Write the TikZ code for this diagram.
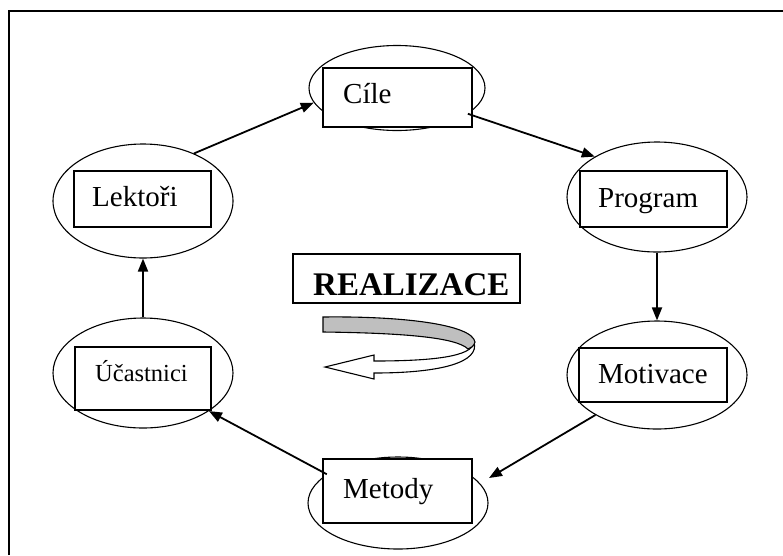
\documentclass[tikz,border=0pt]{standalone}
\usepackage{fontspec}
\setmainfont{Liberation Serif}
\usetikzlibrary{shapes.geometric,arrows.meta,calc}
\begin{document}
\begin{tikzpicture}[x=1pt,y=-1pt,
  ell/.style={draw, ellipse, line width=1.1pt, inner sep=0pt},
  box/.style={draw, fill=white, line width=1.3pt},
  lbl/.style={anchor=base west, inner sep=0pt, font=\fontsize{29}{33}\selectfont},
  conn/.style={line width=1.8pt, -{Triangle[length=13pt,width=10pt]}}]
\useasboundingbox (0,0) rectangle (783,555);
% frame (cropped)
\draw[line width=2pt] (9,555) -- (9,11) -- (783,11);
% ellipses
\node[ell, minimum width=176pt, minimum height=85pt] (cil) at (397,88) {};
\node[ell, minimum width=180pt, minimum height=110pt] (prog) at (657,197) {};
\node[ell, minimum width=180pt, minimum height=114pt] (lek) at (143,201) {};
\node[ell, minimum width=180pt, minimum height=110pt] (ucast) at (143,373) {};
\node[ell, minimum width=180pt, minimum height=108pt] (mot) at (657,375) {};
\node[ell, minimum width=180pt, minimum height=92pt] (met) at (398,503) {};
% boxes
\draw[box] (323,68) rectangle (472,127);
\draw[box] (580,171) rectangle (727,227);
\draw[box] (74,171) rectangle (211,227);
\draw[box] (75,347) rectangle (211,410);
\draw[box] (579,348) rectangle (727,402);
\draw[box] (323,459) rectangle (472,523);
% texts
\node[lbl] (tcil) at (343,103) {Cíle};
\node[lbl] (tprog) at (598,207) {Program};
\node[lbl] (tlek) at (92,206) {Lektoři};
\node[lbl, font=\fontsize{24.5}{28}\selectfont] (tucast) at (95,381) {Účastnici};
\node[lbl] (tmot) at (598,383) {Motivace};
\node[lbl] (tmet) at (343,498) {Metody};
% REALIZACE
\node[draw, line width=1.2pt, minimum width=227pt, minimum height=49pt, inner sep=0pt] (realbox) at (406.5,278.5) {};
\node[anchor=base west, inner sep=0pt, font=\fontsize{33}{38}\selectfont\bfseries] (real) at (313,295) {REALIZACE};
% connectors
\draw[conn] (lek.43) -- (cil.190);
\draw[conn] (cil.-20) -- (prog.147);
\draw[conn] (prog.south) -- (mot.north);
\draw[conn] (mot.213) -- ($(met.center)+(91,-25)$);
\draw[conn] (met.158) -- (ucast.-30);
\draw[conn] (ucast.north) -- (lek.south);
% curved arrow
\draw[fill=white, line width=1.1pt, line join=miter]
  (474,342) .. controls (473,357) and (430,361) .. (374,361)
  -- (374,355) -- (325,367) -- (374,379) -- (374,373)
  .. controls (442,373) and (480,362) .. (474,342) -- cycle;
\draw[fill=black!25, line width=1.1pt]
  (323,317) .. controls (400,316) and (472,324) .. (475,342)
  .. controls (474,346) and (471,348) .. (468,349)
  .. controls (456,337) and (400,333) .. (323,332) -- cycle;
\end{tikzpicture}
\end{document}
